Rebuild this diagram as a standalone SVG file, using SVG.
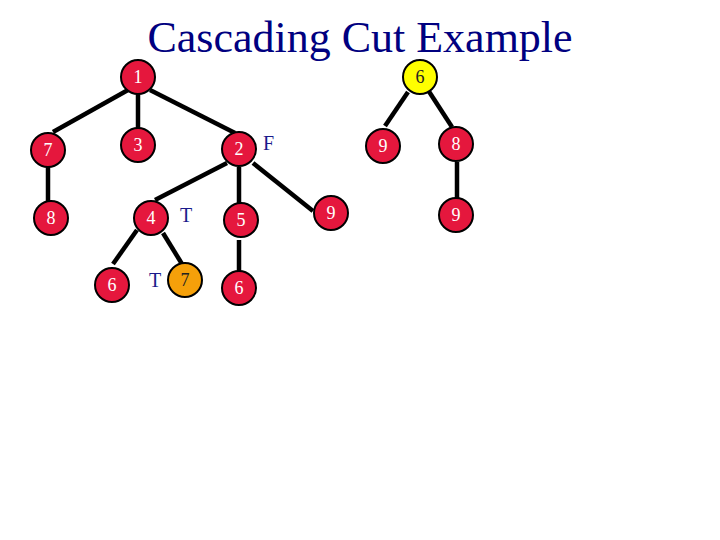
<svg xmlns="http://www.w3.org/2000/svg" width="720" height="540" viewBox="0 0 720 540">
<style>
.e{stroke:#000;stroke-width:4.5;stroke-linecap:butt}
.n circle{stroke:#000;stroke-width:2}
.r{fill:#e5173d}
.n text{font-family:"Liberation Serif",serif;font-size:18px;text-anchor:middle;fill:#fff}
.n text.d{fill:#222}
.lbl{font-family:"Liberation Serif",serif;font-size:20px;fill:#1a1a8c}
</style>
<rect width="720" height="540" fill="#fff"/>
<text x="360" y="52" font-family="Liberation Serif, serif" font-size="44" fill="#000080" text-anchor="middle">Cascading Cut Example</text>
<g id="edges">
<line class="e" x1="128" y1="90" x2="53" y2="132"/>
<line class="e" x1="138" y1="92" x2="138" y2="130"/>
<line class="e" x1="150" y1="90" x2="235" y2="133"/>
<line class="e" x1="48" y1="167" x2="48" y2="203"/>
<line class="e" x1="227" y1="163" x2="155" y2="200"/>
<line class="e" x1="239" y1="167" x2="239" y2="203"/>
<line class="e" x1="253" y1="163" x2="313" y2="211"/>
<line class="e" x1="137" y1="230" x2="113" y2="264"/>
<line class="e" x1="163" y1="233" x2="182" y2="264"/>
<line class="e" x1="239" y1="240" x2="239" y2="272"/>
<line class="e" x1="408" y1="92" x2="385" y2="126"/>
<line class="e" x1="428" y1="90" x2="452" y2="127"/>
<line class="e" x1="457" y1="162" x2="457" y2="198"/>
</g>
<g id="n1" class="n"><circle class="r" cx="138" cy="77" r="17"/><text x="138" y="83">1</text></g>
<g id="n7" class="n"><circle class="r" cx="48" cy="150" r="17"/><text x="48" y="156">7</text></g>
<g id="n3" class="n"><circle class="r" cx="138" cy="145" r="17"/><text x="138" y="151">3</text></g>
<g id="n2" class="n"><circle class="r" cx="239" cy="149" r="17"/><text x="239" y="155">2</text></g>
<g id="n8a" class="n"><circle class="r" cx="51" cy="218" r="17"/><text x="51" y="224">8</text></g>
<g id="n4" class="n"><circle class="r" cx="151" cy="218" r="17"/><text x="151" y="224">4</text></g>
<g id="n5" class="n"><circle class="r" cx="241" cy="220" r="17"/><text x="241" y="226">5</text></g>
<g id="n6a" class="n"><circle class="r" cx="112" cy="285" r="17"/><text x="112" y="291">6</text></g>
<g id="n7b" class="n"><circle cx="185" cy="280" r="17" fill="#f5a00a"/><text class="d" x="185" y="286">7</text></g>
<g id="n6b" class="n"><circle class="r" cx="239" cy="288" r="17"/><text x="239" y="294">6</text></g>
<g id="n9a" class="n"><circle class="r" cx="331" cy="213" r="17"/><text x="331" y="219">9</text></g>
<g id="n6y" class="n"><circle cx="420" cy="77" r="17" fill="#ffff00"/><text class="d" x="420" y="83">6</text></g>
<g id="n9b" class="n"><circle class="r" cx="383" cy="146" r="17"/><text x="383" y="152">9</text></g>
<g id="n8b" class="n"><circle class="r" cx="456" cy="144" r="17"/><text x="456" y="150">8</text></g>
<g id="n9c" class="n"><circle class="r" cx="456" cy="215" r="17"/><text x="456" y="221">9</text></g>
<g id="labels">
<text class="lbl" x="263" y="150">F</text>
<text class="lbl" x="180" y="222">T</text>
<text class="lbl" x="149" y="287">T</text>
</g>
</svg>
